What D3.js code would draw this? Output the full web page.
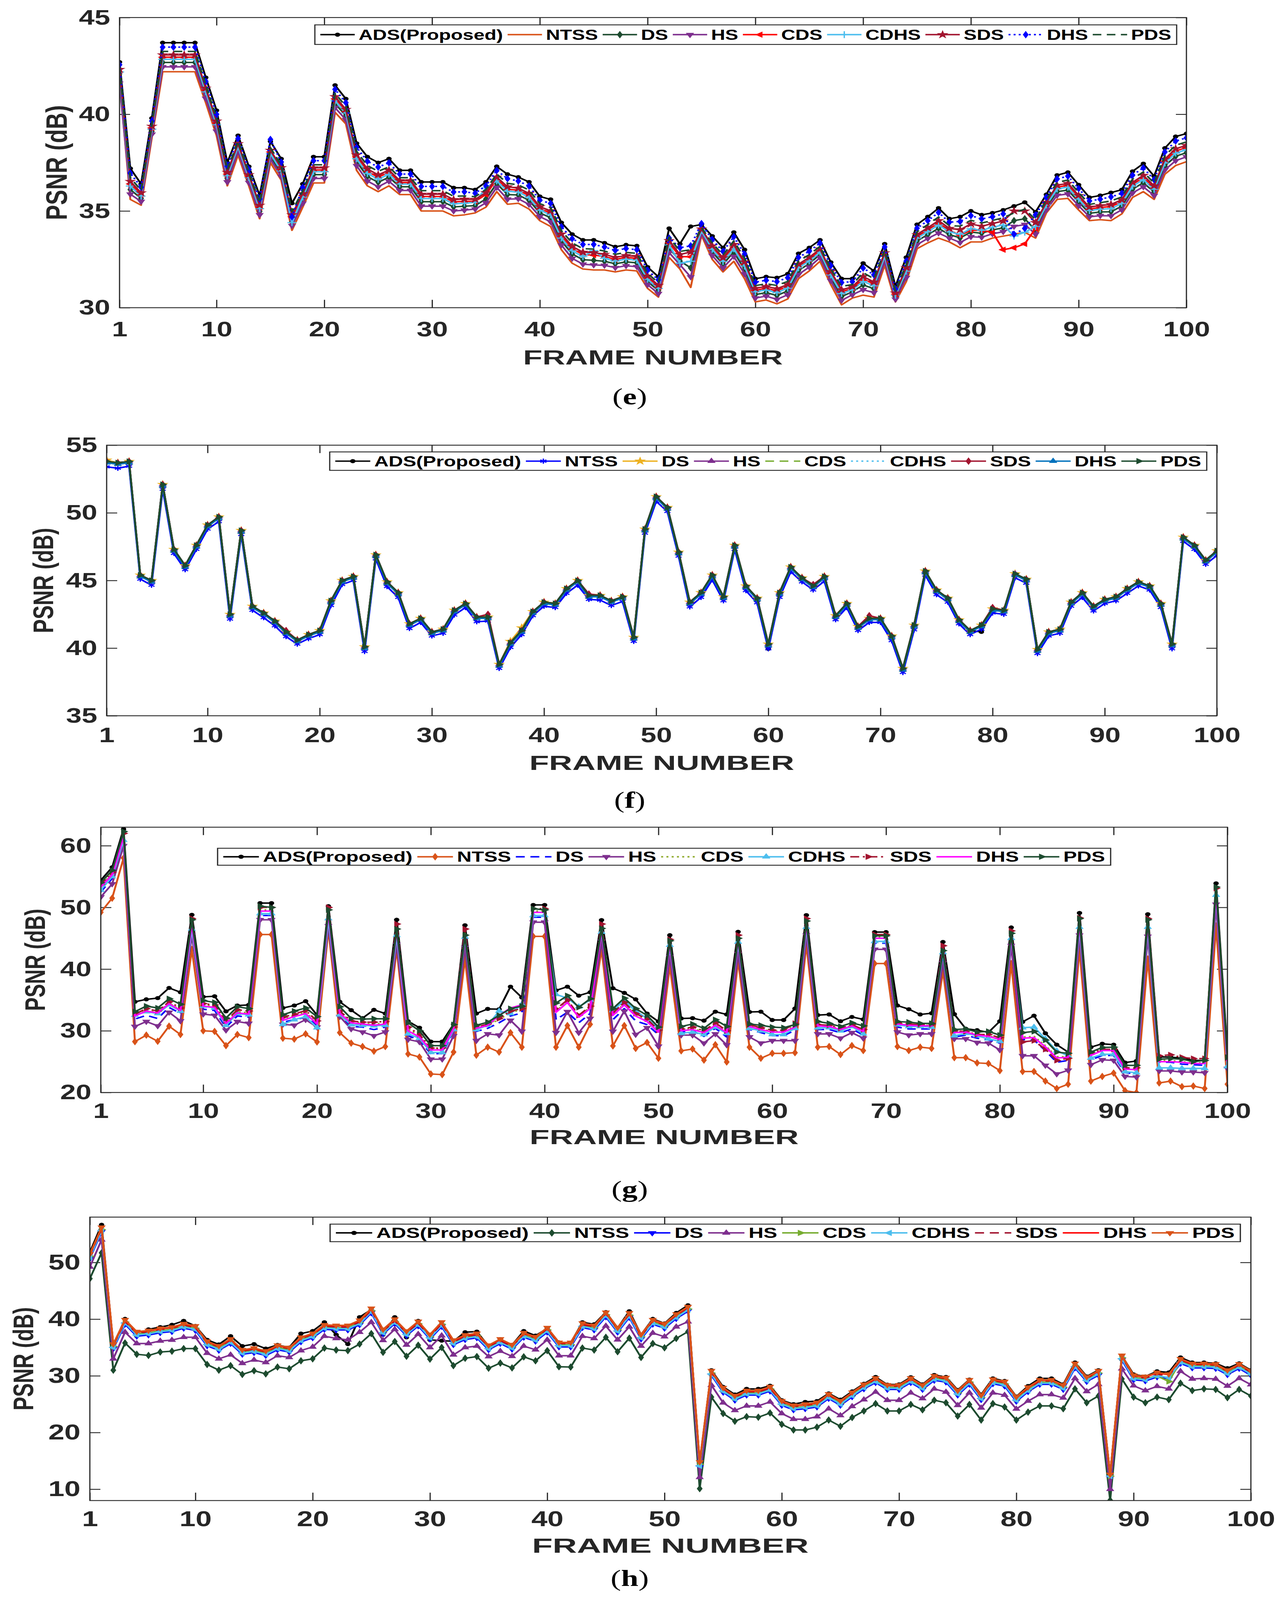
<!DOCTYPE html>
<html>
<head>
<meta charset="utf-8">
<script src="https://cdn.jsdelivr.net/npm/d3@7"></script>
<style>html,body{margin:0;padding:0;background:#fff;overflow:hidden}svg{display:block}</style>
</head>
<body>
<script>
// frame numbers and shared tick labels
const frames = d3.range(1, 101);
const xTicks = [1, 10, 20, 30, 40, 50, 60, 70, 80, 90, 100];
const names = ["ADS(Proposed)", "NTSS", "DS", "HS", "CDS", "CDHS", "SDS", "DHS", "PDS"];
const eTicks = [30, 35, 40, 45];
const fTicks = [35, 40, 45, 50, 55];
const gTicks = [20, 30, 40, 50, 60];
const hTicks = [10, 20, 30, 40, 50];

// ---- panel (e)
const eADS = [42.7,37.2,36.4,39.8,43.7,43.7,43.7,43.7,41.9,40.2, 37.5,38.9,37.3,35.8,38.6,37.7,35.4,36.4,37.8,37.8, 41.5,40.8,38.5,37.8,37.5,37.7,37.1,37.1,36.5,36.5, 36.5,36.2,36.2,36.1,36.5,37.3,36.9,36.75,36.5,35.75, 35.6,34.4,33.8,33.5,33.5,33.35,33.15,33.25,33.2,32.1, 31.6,34.1,33.3,34.2,34.3,33.7,33.1,33.9,33.0,31.5, 31.6,31.55,31.75,32.8,33.1,33.5,32.35,31.5,31.5,32.3, 31.9,33.3,31.1,32.6,34.3,34.7,35.15,34.6,34.7,35.0, 34.8,34.9,35.05,35.25,35.45,34.95,35.85,36.85,37.0,36.35, 35.7,35.8,35.95,36.1,37.05,37.45,36.8,38.25,38.85,39.0];
const eNTSS = [41.8,35.6,35.3,38.8,42.2,42.2,42.2,42.2,40.6,38.9, 36.3,37.9,36.3,34.6,37.5,36.6,34.0,35.2,36.45,36.45, 40.1,39.5,37.1,36.3,36.0,36.3,35.85,35.85,35.0,35.0, 35.0,34.75,34.8,34.9,35.2,36.0,35.35,35.4,35.1,34.5, 34.2,33.0,32.3,32.0,31.95,31.95,31.85,31.95,31.9,31.0, 30.55,32.6,32.0,31.05,33.75,32.5,31.85,32.4,31.5,30.3, 30.4,30.2,30.45,31.5,31.9,32.4,31.2,30.15,30.5,30.65, 30.55,32.2,30.3,31.35,33.05,33.35,33.6,33.4,33.1,33.4, 33.4,33.6,33.7,33.8,33.9,33.6,34.9,35.6,35.65,35.05, 34.5,34.55,34.5,34.85,35.7,36.0,35.6,36.9,37.35,37.55];
const eDS = [42.09,36.11,35.65,39.12,42.68,42.68,42.68,42.68,41.02,39.32, 36.68,38.22,36.62,34.98,37.85,36.95,34.45,35.58,36.88,36.88, 40.55,39.92,37.55,36.78,36.48,36.75,36.25,36.25,35.48,35.48, 35.48,35.21,35.25,35.28,35.62,36.42,35.85,35.83,35.55,34.9, 34.65,33.45,32.78,32.48,32.45,32.4,32.27,32.37,32.32,31.35, 30.89,33.08,32.42,32.06,33.93,32.88,32.25,32.88,31.98,30.68, 30.78,30.63,30.87,31.92,32.28,32.75,31.57,30.58,30.82,31.18, 30.98,32.55,30.56,31.75,33.45,33.78,34.1,33.78,33.61,33.91, 33.85,34.02,34.13,34.5,34.6,34.0,35.2,36.0,36.08,35.47, 34.88,34.95,34.96,35.25,36.13,36.46,35.98,37.33,37.83,38.01];
const eHS = [41.6,35.87,35.49,38.97,42.45,42.45,42.45,42.45,40.82,39.12, 36.5,38.07,36.47,34.8,37.69,36.79,34.24,35.4,36.68,36.68, 40.34,39.72,37.34,36.55,36.25,36.54,36.06,36.06,35.25,35.25, 35.25,35.0,35.04,35.1,35.42,36.22,35.61,35.63,35.34,34.71, 34.44,33.24,32.55,32.25,32.21,32.19,32.07,32.17,32.12,31.19, 30.73,32.85,32.22,31.59,33.84,32.7,32.06,32.65,31.75,30.5, 30.6,30.43,30.67,31.72,32.1,32.59,31.4,30.38,30.67,30.93, 30.78,32.39,30.44,31.56,33.26,33.58,33.86,33.6,33.37,33.67, 33.64,33.82,33.93,34.2,34.3,33.8,35.06,35.81,35.88,35.27, 34.7,34.76,34.75,35.06,35.93,36.25,35.8,37.13,37.6,37.8];
const eCDS = [42.25,36.4,35.85,39.3,42.95,42.95,42.95,42.95,41.25,39.55, 36.9,38.4,36.8,35.2,38.05,37.15,34.7,35.8,37.12,37.12, 40.8,40.15,37.8,37.05,36.75,37.0,36.47,36.47,35.75,35.75, 35.75,35.47,35.5,35.5,35.85,36.65,36.12,36.08,35.8,35.12, 34.9,33.7,33.05,32.75,32.72,32.65,32.5,32.6,32.55,31.55, 31.08,33.35,32.65,32.63,34.03,33.1,32.48,33.15,32.25,30.9, 31.0,30.88,31.1,32.15,32.5,32.95,31.78,30.83,31.0,31.48, 31.23,32.75,30.7,31.98,33.68,34.03,34.38,34.0,33.75,34.0, 34.0,33.9,33.0,33.1,33.3,34.1,35.38,36.23,36.33,35.7, 35.1,35.18,35.23,35.48,36.38,36.73,36.2,37.58,38.1,38.28];
const eCDHS = [42.19,36.29,35.77,39.23,42.84,42.84,42.84,42.84,41.16,39.46, 36.82,38.33,36.73,35.12,37.97,37.07,34.4,35.72,37.03,37.03, 40.7,40.06,37.7,36.94,36.64,36.9,36.39,36.39,35.64,35.64, 35.64,35.37,35.4,35.45,36.2,36.56,36.02,35.98,35.7,35.04, 34.8,33.6,32.94,32.64,32.95,32.55,32.41,32.51,32.46,31.47, 31.0,33.24,32.3,32.4,33.99,33.02,32.39,33.05,32.15,30.82, 30.92,30.78,31.01,32.06,32.42,32.87,31.69,30.73,30.93,31.36, 31.13,32.67,30.64,31.89,33.59,33.93,34.27,33.92,33.79,34.09, 34.0,34.16,34.28,33.7,33.9,34.2,35.31,36.14,36.23,35.61, 35.02,35.09,35.12,35.39,36.28,36.62,36.12,37.48,37.99,38.17];
const eSDS = [42.32,36.53,35.94,39.38,43.07,43.07,43.07,43.07,41.35,39.65, 37.0,38.48,36.88,35.3,38.14,37.24,34.81,35.9,37.23,37.23, 40.91,40.25,37.91,37.17,36.87,37.11,36.57,36.57,35.87,35.87, 35.87,35.59,35.61,35.6,35.95,36.75,36.25,36.18,35.91,35.22, 35.01,33.81,33.17,32.87,32.85,32.76,32.6,32.7,32.65,31.64, 31.16,33.47,32.75,32.88,34.07,33.2,32.58,33.27,32.37,31.0, 31.1,30.98,31.2,32.25,32.6,33.04,31.87,30.93,31.08,31.61, 31.33,32.84,30.76,32.08,33.78,34.13,34.5,34.1,34.03,34.33, 34.21,34.35,34.48,35.0,35.0,34.4,35.45,36.33,36.43,35.8, 35.2,35.28,35.34,35.58,36.48,36.84,36.3,37.68,38.22,38.39];
const eDHS = [42.56,36.96,36.23,39.65,43.47,43.47,43.47,43.47,41.7,40.0, 37.32,38.75,37.15,35.62,38.7,37.53,34.7,36.22,37.6,37.6, 41.29,40.6,38.29,37.57,37.27,37.49,36.91,36.91,36.27,36.27, 36.27,35.98,35.99,35.92,36.3,37.1,36.67,36.55,36.29,35.56, 35.39,34.19,33.57,33.27,33.27,33.14,32.96,33.06,33.0,31.94, 31.44,33.6,33.1,33.2,34.35,33.52,32.91,33.67,32.77,31.32, 31.42,31.35,31.55,32.6,32.92,33.34,32.18,31.3,31.35,32.05, 31.7,33.14,30.98,32.41,34.11,34.5,34.92,34.42,34.46,34.76, 34.59,34.7,34.85,33.8,34.1,34.8,35.71,36.66,36.8,36.16, 35.52,35.61,35.73,35.91,36.85,37.23,36.62,38.05,38.62,38.78];
const ePDS = [42.43,36.72,36.07,39.5,43.25,43.25,43.25,43.25,41.51,39.81, 37.14,38.6,37.0,35.44,38.27,37.37,34.98,36.04,37.39,37.39, 41.08,40.41,38.08,37.35,37.05,37.28,36.72,36.72,36.05,36.05, 36.05,35.76,35.78,35.74,36.11,36.91,36.43,36.35,36.08,35.38, 35.18,33.98,33.35,33.05,33.03,32.93,32.76,32.86,32.81,31.77, 31.29,33.65,32.91,33.0,34.14,33.34,32.72,33.45,32.55,31.14, 31.24,31.15,31.36,32.41,32.74,33.17,32.01,31.1,31.2,31.81, 31.5,32.97,30.86,32.22,33.92,34.3,34.69,34.24,34.22,34.52, 34.38,34.51,34.65,34.9,35.1,34.55,35.57,36.48,36.6,35.96, 35.34,35.43,35.52,35.73,36.65,37.02,36.44,37.85,38.4,38.57];

// ---- panel (f)
const fADS = [53.8,53.65,53.75,45.4,44.95,52.05,47.3,46.1,47.6,49.1, 49.65,42.45,48.7,43.1,42.55,41.95,41.15,40.6,41.0,41.3, 43.45,45.0,45.3,40.05,46.9,44.85,44.05,41.75,42.2,41.2, 41.4,42.75,43.3,42.25,42.3,38.8,40.35,41.3,42.7,43.4, 43.3,44.35,44.95,43.9,43.85,43.45,43.75,40.8,48.8,51.15, 50.4,47.1,43.35,44.05,45.35,43.8,47.6,44.55,43.65,39.95, 44.05,45.95,45.2,44.6,45.25,42.4,43.3,41.6,42.2,42.2, 40.85,38.5,41.65,45.7,44.25,43.7,42.1,41.3,41.2,42.9, 42.8,45.5,45.1,39.9,41.2,41.4,43.4,44.05,43.05,43.6, 43.8,44.35,44.9,44.6,43.3,40.25,48.2,47.6,46.5,47.15];
const fNTSS = [53.4,53.3,53.45,45.1,44.65,51.75,47.0,45.8,47.3,48.8, 49.35,42.15,48.4,42.8,42.25,41.65,40.85,40.3,40.7,41.0, 43.15,44.7,45.0,39.75,46.6,44.55,43.75,41.45,41.9,40.9, 41.1,42.45,43.0,41.95,42.0,38.5,40.05,41.0,42.4,43.1, 43.0,44.05,44.65,43.6,43.55,43.15,43.45,40.5,48.5,50.85, 50.1,46.8,43.05,43.75,45.05,43.5,47.3,44.25,43.35,39.95, 43.75,45.65,44.9,44.3,44.95,42.1,43.0,41.3,41.9,41.9, 40.55,38.2,41.35,45.4,43.95,43.4,41.8,41.0,41.4,42.6, 42.5,45.2,44.8,39.6,40.9,41.1,43.1,43.75,42.75,43.3, 43.5,44.05,44.6,44.3,43.0,39.95,47.9,47.3,46.2,46.85];
const fDS = [53.9,53.7,53.8,45.4,45.0,52.1,47.3,46.1,47.6,49.1, 49.7,42.5,48.7,43.1,42.6,42.0,41.2,40.6,41.0,41.3, 43.5,45.0,45.3,40.1,46.9,44.9,44.1,41.8,42.2,41.2, 41.4,42.8,43.3,42.3,42.3,38.8,40.5,41.5,42.7,43.4, 43.3,44.4,45.0,43.9,43.9,43.5,43.8,40.8,48.8,51.2, 50.4,47.1,43.4,44.1,45.4,43.8,47.6,44.6,43.7,40.3, 44.1,46.0,45.2,44.6,45.3,42.4,43.3,41.6,42.2,42.2, 40.9,38.5,41.7,45.7,44.3,43.7,42.1,41.3,41.7,42.9, 42.8,45.5,45.1,39.9,41.2,41.4,43.4,44.1,43.1,43.6, 43.8,44.4,44.9,44.6,43.3,40.3,48.2,47.6,46.5,47.2];
const fHS = [53.8,53.7,53.8,45.4,45.0,52.1,47.3,46.1,47.6,49.1, 49.7,42.5,48.7,43.1,42.6,42.0,41.2,40.6,41.0,41.3, 43.5,45.0,45.3,40.1,46.9,44.9,44.1,41.8,42.2,41.2, 41.4,42.8,43.3,42.3,42.3,38.8,40.4,41.3,42.7,43.4, 43.3,44.4,45.0,43.9,43.9,43.5,43.8,40.8,48.8,51.2, 50.4,47.1,43.4,44.1,45.4,43.8,47.6,44.6,43.7,40.3, 44.1,46.0,45.2,44.6,45.3,42.4,43.3,41.6,42.2,42.2, 40.9,38.5,41.7,45.7,44.3,43.7,42.1,41.3,41.7,42.9, 42.8,45.5,45.1,39.9,41.2,41.4,43.4,44.1,43.1,43.6, 43.8,44.4,44.9,44.6,43.3,40.3,48.2,47.6,46.5,47.2];
const fCDS = [53.7,53.6,53.7,45.3,44.9,52.0,47.2,46.0,47.5,49.0, 49.6,42.4,48.6,43.0,42.5,41.9,41.1,40.5,40.9,41.2, 43.4,44.9,45.2,40.0,46.8,44.8,44.0,41.7,42.1,41.1, 41.3,42.7,43.2,42.2,42.2,38.7,40.3,41.2,42.6,43.3, 43.2,44.3,44.9,43.8,43.8,43.4,43.7,40.7,48.7,51.1, 50.3,47.0,43.3,44.0,45.3,43.7,47.5,44.5,43.6,40.2, 44.0,45.9,45.1,44.5,45.2,42.3,43.2,41.5,42.1,42.1, 40.8,38.4,41.6,45.6,44.2,43.6,42.0,41.2,41.6,42.8, 42.7,45.4,45.0,39.8,41.1,41.3,43.3,44.0,43.0,43.5, 43.7,44.3,44.8,44.5,43.2,40.2,48.1,47.5,46.4,47.1];
const fCDHS = [53.7,53.6,53.7,45.3,44.9,52.0,47.2,46.0,47.5,49.0, 49.6,42.4,48.6,43.0,42.5,41.9,41.1,40.5,40.9,41.2, 43.4,44.9,45.2,40.0,46.8,44.8,44.0,41.7,42.1,41.1, 41.3,42.7,43.2,42.2,42.2,38.7,40.3,41.2,42.6,43.3, 43.2,44.3,44.9,43.8,43.8,43.4,43.7,40.7,48.7,51.1, 50.3,47.0,43.3,44.0,45.3,43.7,47.5,44.5,43.6,40.2, 44.0,45.9,45.1,44.5,45.2,42.3,43.2,41.5,42.1,42.1, 40.8,38.4,41.6,45.6,44.2,43.6,42.0,41.2,41.6,42.8, 42.7,45.4,45.0,39.8,41.1,41.3,43.3,44.0,43.0,43.5, 43.7,44.3,44.8,44.5,43.2,40.2,48.1,47.5,46.4,47.1];
const fSDS = [53.8,53.7,53.8,45.4,45.0,52.1,47.3,46.1,47.6,49.1, 49.7,42.5,48.7,43.1,42.6,42.0,41.3,40.6,41.0,41.3, 43.5,45.0,45.3,40.1,46.9,44.9,44.1,41.8,42.2,41.2, 41.4,42.8,43.3,42.3,42.5,38.8,40.4,41.3,42.7,43.4, 43.3,44.4,45.0,44.0,43.9,43.5,43.8,40.8,48.8,51.2, 50.4,47.1,43.4,44.1,45.4,43.8,47.6,44.6,43.7,40.3, 44.1,46.0,45.2,44.7,45.3,42.4,43.3,41.6,42.4,42.2, 40.9,38.5,41.7,45.7,44.3,43.7,42.1,41.3,41.7,43.0, 42.8,45.4,45.1,39.9,41.2,41.4,43.4,44.1,43.1,43.6, 43.8,44.4,44.9,44.6,43.3,40.3,48.2,47.6,46.5,47.2];
const fDHS = [53.7,53.6,53.7,45.3,44.9,52.0,47.2,46.0,47.5,49.0, 49.6,42.4,48.6,43.0,42.5,41.9,41.1,40.5,40.9,41.2, 43.4,44.9,45.2,40.0,46.8,44.8,44.0,41.7,42.1,41.1, 41.3,42.7,43.2,42.2,42.2,38.7,40.3,41.2,42.6,43.3, 43.2,44.3,44.9,43.8,43.8,43.4,43.7,40.7,48.7,51.1, 50.3,47.0,43.3,44.0,45.3,43.7,47.5,44.5,43.6,40.2, 44.0,45.9,45.1,44.5,45.2,42.3,43.2,41.5,42.1,42.1, 40.8,38.4,41.6,45.6,44.2,43.6,42.0,41.2,41.6,42.8, 42.7,45.4,45.0,39.8,41.1,41.3,43.3,44.0,43.0,43.5, 43.7,44.3,44.8,44.5,43.2,40.2,48.1,47.5,46.4,47.1];
const fPDS = [53.8,53.7,53.8,45.4,45.0,52.1,47.3,46.1,47.6,49.1, 49.7,42.5,48.7,43.1,42.6,42.0,41.2,40.6,41.0,41.3, 43.5,45.0,45.3,40.1,46.9,44.9,44.1,41.8,42.2,41.2, 41.4,42.8,43.3,42.3,42.3,38.8,40.4,41.3,42.7,43.4, 43.3,44.4,45.0,43.9,43.9,43.5,43.8,40.8,48.8,51.2, 50.4,47.1,43.4,44.1,45.4,43.8,47.6,44.6,43.7,40.3, 44.1,46.0,45.2,44.6,45.3,42.4,43.3,41.6,42.2,42.2, 40.9,38.5,41.7,45.7,44.3,43.7,42.1,41.3,41.7,42.9, 42.8,45.5,45.1,39.9,41.2,41.4,43.4,44.1,43.1,43.6, 43.8,44.4,44.9,44.6,43.3,40.3,48.2,47.6,46.5,47.2];

// ---- panel (g)
const gADS = [54.4,56.5,62.7,34.7,35.1,35.3,36.95,36.25,48.8,35.5, 35.6,33.15,34.1,34.2,50.7,50.7,33.7,34.1,34.8,32.55, 50.2,34.7,33.35,32.05,33.4,32.8,48.0,31.55,30.5,28.25, 28.25,31.05,47.1,32.8,33.55,33.5,37.15,35.4,50.4,50.4, 36.55,37.15,35.7,36.25,47.95,36.9,36.15,35.1,32.8,31.5, 45.5,32.0,32.05,31.65,33.1,32.65,46.05,33.05,33.1,31.75, 31.75,33.6,48.75,32.55,32.65,31.55,32.25,31.85,46.0,46.0, 34.1,33.5,32.65,32.85,44.4,32.7,30.35,30.1,29.75,31.55, 46.75,31.45,32.45,29.6,27.75,26.55,49.1,27.35,27.9,27.75, 24.85,25.1,48.9,25.75,25.75,25.55,25.2,25.2,53.9,26.35];
const gNTSS = [49.2,51.5,58.0,28.25,29.3,28.3,30.75,29.4,43.2,30.0, 29.9,27.6,29.4,28.9,45.6,45.6,28.8,28.65,29.5,28.2, 46.4,29.7,28.0,27.45,26.7,27.45,43.2,26.25,25.75,23.0, 22.9,26.55,41.65,26.05,27.35,26.55,29.7,27.35,45.3,45.3, 27.35,30.85,27.35,31.05,43.2,27.55,30.85,27.15,28.1,25.55, 40.5,26.75,27.05,25.25,27.75,24.95,41.3,27.35,25.55,26.35, 26.35,26.45,44.0,27.35,27.45,26.15,27.6,26.8,40.9,40.9, 27.45,26.8,27.35,27.15,39.7,25.65,25.65,24.8,24.7,23.55, 40.9,23.4,23.4,21.85,20.65,21.35,43.2,21.85,22.6,23.15, 20.3,20.0,41.65,21.55,21.85,20.95,21.05,20.65,47.0,21.35];
const gDS = [52.5,54.7,60.6,31.9,32.5,32.0,33.8,32.8,46.2,33.5, 33.3,30.6,32.4,32.2,48.7,48.7,31.4,31.8,32.2,30.9, 48.5,32.3,30.7,30.6,30.2,30.6,45.2,29.2,28.5,26.3, 26.3,30.0,44.8,29.9,30.4,31.3,32.4,32.9,48.4,48.4, 31.8,33.0,31.3,32.8,45.7,31.8,33.6,31.6,31.0,29.4, 43.6,29.8,30.0,29.1,30.4,29.0,44.1,30.2,29.7,29.2, 29.2,30.1,46.5,30.2,30.2,29.7,30.3,29.3,44.2,44.2, 30.6,30.3,30.3,30.3,42.4,29.0,29.3,28.8,28.5,28.0, 44.7,28.6,28.5,26.8,24.9,25.2,46.5,25.3,26.0,26.0, 23.2,23.0,46.5,24.9,24.9,24.6,24.5,24.4,51.7,24.6];
const gHS = [51.7,53.8,60.0,30.7,31.5,30.8,33.0,31.6,45.5,32.7, 32.5,30.1,31.5,31.2,48.0,48.0,31.05,30.9,31.8,30.6, 47.0,32.3,30.3,29.8,29.2,29.8,44.0,28.6,28.2,25.4, 25.4,29.2,43.5,28.4,29.5,29.3,31.7,29.9,47.6,47.6, 29.7,33.1,29.7,32.0,44.5,29.9,33.2,29.4,30.5,27.5, 42.0,29.3,29.3,28.0,29.5,27.7,42.5,29.0,28.0,28.4, 28.4,28.4,45.5,29.5,29.5,28.8,29.7,28.8,43.2,43.2, 29.8,29.3,29.5,29.5,41.0,28.7,28.7,28.1,28.0,26.9, 43.8,25.95,25.95,24.4,23.0,23.6,45.5,24.5,25.3,25.2, 22.6,22.5,45.3,23.5,23.5,23.3,23.3,23.2,50.5,23.9];
const gCDS = [53.5,55.5,61.6,32.5,33.3,33.0,34.5,33.4,47.5,34.2, 34.0,31.4,33.1,32.9,49.6,49.6,31.9,32.5,33.0,31.3, 49.3,33.0,31.5,31.2,31.1,31.2,46.5,30.3,29.2,27.0, 27.0,30.5,45.8,30.5,31.0,31.8,33.0,33.4,49.4,49.4, 33.2,34.8,32.4,33.8,46.6,32.7,34.4,32.6,31.7,30.0, 44.4,30.2,30.4,29.8,31.1,29.8,45.0,30.8,30.3,29.9, 29.9,30.8,47.6,30.9,30.8,30.3,30.9,30.0,45.2,45.2, 31.2,31.0,30.9,30.9,43.4,29.8,29.8,29.3,29.2,28.7, 45.7,29.0,29.1,27.6,25.8,25.8,47.8,26.1,26.9,26.9, 23.9,23.8,47.7,25.2,25.2,25.0,24.8,24.8,52.7,25.2];
const gCDHS = [52.8,55.0,60.9,32.55,33.1,32.8,34.2,33.2,46.5,34.0, 33.7,30.9,32.8,32.6,49.0,49.0,31.05,31.8,32.3,30.5, 48.2,32.6,31.0,30.9,30.8,30.9,45.5,29.5,28.8,26.5, 26.5,30.2,45.2,30.2,30.9,33.2,32.8,34.3,48.7,48.7, 35.9,35.3,33.9,35.0,46.0,33.3,34.9,33.2,32.0,30.3, 43.9,29.6,29.8,29.4,30.6,29.6,44.4,30.4,30.0,29.4, 29.4,30.4,46.8,30.5,30.5,30.0,30.7,29.5,44.5,44.5, 31.0,30.7,30.7,30.6,42.7,29.2,29.6,29.2,28.7,28.3, 45.0,30.5,30.6,28.7,26.75,25.95,46.8,25.6,26.2,26.2, 23.4,23.2,46.8,24.0,24.0,23.9,23.9,23.9,52.0,24.2];
const gSDS = [53.7,55.7,62.0,32.7,33.6,33.2,34.7,33.7,48.2,34.4, 34.2,31.6,33.4,33.2,50.0,50.0,32.2,32.7,33.3,31.6, 50.0,33.2,31.6,31.4,31.4,31.5,47.3,30.6,29.4,27.2, 27.2,30.6,46.5,30.6,31.1,32.0,33.2,33.6,49.8,49.8, 33.5,35.0,32.5,34.0,47.3,32.9,34.6,32.8,31.9,30.1, 44.8,30.3,30.6,30.0,31.3,30.0,45.5,31.0,30.5,30.1, 30.1,31.2,48.2,31.0,30.9,30.4,31.0,30.2,45.6,45.6, 31.3,31.1,31.0,31.0,43.8,30.0,29.9,29.4,29.4,28.9, 46.2,28.2,28.4,27.0,25.2,25.55,48.3,26.3,27.0,27.0, 24.0,24.0,48.2,25.95,26.1,25.7,25.5,25.5,53.1,25.6];
const gDHS = [53.3,55.3,61.5,32.4,33.2,32.9,34.4,33.3,47.3,34.0, 33.8,31.2,32.9,32.7,49.4,49.4,31.7,32.3,32.8,31.1, 49.2,32.8,31.3,31.1,30.9,31.1,46.3,30.0,29.0,26.9, 26.9,30.4,45.6,30.4,30.9,32.5,33.7,34.2,49.2,49.2, 33.0,34.6,32.2,33.6,46.4,32.5,34.2,32.4,31.5,29.8, 44.2,30.0,30.2,29.7,30.9,29.7,44.8,30.7,30.2,29.8, 29.8,30.6,47.4,30.8,30.7,30.2,30.8,29.9,45.0,45.0, 31.1,30.9,30.8,30.8,43.2,29.7,29.8,29.3,29.1,28.6, 45.5,28.8,28.9,27.4,25.6,25.7,47.6,26.0,26.8,26.8, 23.8,23.7,47.5,25.0,25.0,24.9,24.7,24.7,52.5,25.0];
const gPDS = [54.0,56.0,62.3,33.1,34.0,33.7,35.2,34.3,48.0,34.9, 34.6,32.05,33.9,33.6,50.2,50.0,32.6,33.2,33.7,32.3, 49.6,33.9,32.0,31.9,31.95,31.95,46.5,31.3,30.0,27.6, 27.6,31.0,45.5,30.9,31.4,32.5,33.6,34.0,49.8,49.6, 34.5,35.7,33.8,35.2,46.6,33.6,35.3,33.6,32.5,30.6, 44.6,30.7,31.1,30.4,31.8,30.7,45.0,31.1,30.9,30.6, 30.5,31.0,47.8,31.5,31.2,30.7,31.3,30.8,45.4,45.4, 31.5,31.4,31.2,31.2,43.0,30.2,30.3,29.8,29.9,29.3, 45.8,29.7,29.9,28.5,26.55,26.35,48.2,26.55,27.3,27.35, 24.4,24.4,48.0,25.4,25.5,25.4,25.0,25.2,53.3,25.7];

// ---- panel (h)
const hADS = [51.8,56.65,35.3,40.05,37.0,38.2,38.6,39.0,39.7,38.8, 36.35,35.55,37.0,35.25,35.6,34.8,35.45,35.0,37.45,37.9, 39.45,37.25,35.6,40.35,41.7,37.25,40.35,36.8,39.7,36.35, 36.2,36.1,37.7,37.8,35.25,36.45,35.45,37.9,37.1,38.35, 35.9,35.8,39.45,39.1,41.25,38.45,41.4,37.25,40.05,39.25, 41.1,42.45,14.35,31.0,28.05,26.7,27.7,27.7,28.25,25.7, 25.0,25.4,25.55,26.9,25.8,27.25,28.6,29.8,28.45,28.5, 29.75,28.5,30.15,29.8,27.5,29.35,26.7,29.55,29.1,26.35, 28.2,29.55,29.55,28.5,32.35,29.9,31.0,12.5,33.55,30.25, 29.9,30.8,30.6,33.25,32.35,32.35,32.2,31.35,32.2,31.0];
const hNTSS = [47.15,51.7,31.0,35.8,33.8,33.6,34.2,34.35,34.8,34.8, 32.0,31.0,31.8,30.25,30.9,30.35,31.55,31.25,32.65,33.0, 34.9,34.55,34.45,35.6,37.45,34.15,36.05,33.45,35.4,32.95, 35.0,31.8,33.1,33.4,31.35,32.25,31.4,33.35,32.65,34.45, 31.6,31.55,34.9,34.55,36.8,34.25,36.65,33.25,35.7,34.95, 36.6,37.8,10.1,26.25,23.35,22.0,22.8,22.7,23.45,21.45, 20.45,20.45,20.95,22.2,21.1,22.65,23.8,25.1,23.8,23.8, 24.95,24.0,25.7,25.25,22.9,24.95,22.2,25.1,24.5,22.2, 23.6,24.7,24.7,24.2,27.7,25.25,26.45,8.05,29.45,26.25, 25.25,26.25,25.8,28.7,27.4,27.7,27.6,26.15,27.6,26.45];
const hDS = [50.7,55.4,34.8,39.1,37.0,37.2,37.6,37.8,38.4,38.0, 35.3,34.5,35.7,33.8,34.1,33.6,34.6,34.2,36.0,36.7, 38.2,38.1,38.1,39.0,41.1,37.4,39.2,37.1,38.8,36.5, 38.7,35.5,36.4,36.7,34.6,35.7,34.7,36.8,36.1,37.7, 35.1,35.1,38.5,38.1,40.4,37.7,40.3,36.5,39.1,38.4, 40.1,41.4,13.9,30.1,27.1,25.7,26.6,26.6,27.3,24.8, 24.0,24.2,24.5,26.0,24.8,26.3,27.7,28.8,27.6,27.6, 28.8,27.6,29.2,28.9,26.6,28.5,25.8,28.6,28.2,25.5, 27.2,28.5,28.5,27.6,31.4,29.0,30.1,12.0,32.8,29.3, 29.1,29.8,29.5,32.2,31.4,31.4,31.3,30.2,31.3,30.1];
const hHS = [49.2,54.0,33.0,37.7,35.7,35.7,36.15,36.3,36.8,36.8, 34.0,33.0,33.7,32.2,32.8,32.35,33.55,33.25,34.45,35.1, 37.0,36.6,36.35,37.7,39.45,36.25,38.2,35.45,37.35,35.0, 37.1,33.7,35.0,35.25,33.4,34.35,33.45,35.25,34.6,36.35, 33.55,33.55,37.0,36.6,38.8,36.35,38.65,35.25,37.55,36.9, 38.65,39.55,12.1,28.35,25.25,23.9,24.7,24.7,25.4,23.35, 22.35,22.35,22.8,24.2,23.0,24.6,25.8,27.15,25.7,25.7, 27.0,26.0,27.7,27.15,24.8,27.0,24.35,27.0,26.6,24.15, 25.55,26.7,26.7,26.1,29.55,27.25,28.5,10.0,31.25,28.25, 27.4,28.15,27.7,30.8,29.45,29.55,29.45,28.2,29.55,28.45];
const hCDS = [51.1,55.8,35.2,39.5,37.4,37.6,38.0,38.2,38.8,38.4, 35.7,34.9,36.1,34.3,34.5,34.1,35.0,34.6,36.4,37.1, 38.6,38.5,38.5,39.4,41.5,37.8,39.6,37.5,39.2,36.9, 39.1,35.9,36.8,37.1,35.0,36.1,35.1,37.2,36.5,38.1, 35.5,35.5,38.9,38.5,40.8,38.1,40.7,36.9,39.5,38.8, 40.5,41.8,14.4,30.5,27.5,26.1,27.0,27.0,27.7,25.2, 24.4,24.6,24.9,26.4,25.2,26.7,28.1,29.2,28.0,28.0, 29.2,28.0,29.6,29.3,27.0,28.9,26.2,29.0,28.6,25.9, 27.6,28.9,28.9,28.0,31.8,29.4,30.5,12.3,33.2,29.7, 29.5,30.0,29.0,32.6,31.8,31.8,31.7,30.6,31.7,30.5];
const hCDHS = [50.9,55.6,35.0,39.3,37.2,37.4,37.8,38.0,38.6,38.2, 35.5,34.7,35.9,34.0,34.3,33.8,34.8,34.4,36.2,36.9, 38.4,38.3,38.3,39.2,41.3,37.6,39.4,37.3,39.0,36.7, 38.9,35.7,36.6,36.9,34.8,35.9,34.9,37.0,36.3,37.9, 35.3,35.3,38.7,38.3,40.6,37.9,40.5,36.7,39.3,38.6, 40.3,41.6,14.1,30.3,27.3,25.9,26.8,26.8,27.5,25.0, 24.2,24.4,24.7,26.2,25.0,26.5,27.9,29.0,27.8,27.8, 29.0,27.8,29.4,29.1,26.8,28.7,26.0,28.8,28.4,25.7, 27.4,28.7,28.7,27.8,31.6,29.2,30.3,12.3,33.0,29.5, 29.3,30.0,29.7,32.4,31.6,31.6,31.5,30.4,31.5,30.3];
const hSDS = [51.3,56.0,35.4,39.6,37.5,37.8,38.2,38.4,39.0,38.5, 35.9,35.1,36.3,34.4,34.7,34.2,35.2,34.8,36.6,37.3, 38.8,38.6,38.6,39.5,41.6,37.9,39.7,37.6,39.3,37.0, 39.2,36.0,37.0,37.2,35.2,36.2,35.2,37.4,36.7,38.3, 35.7,35.7,39.0,38.7,41.0,38.3,40.9,37.0,39.7,39.0, 40.7,42.0,14.6,30.6,27.7,26.3,27.2,27.2,27.8,25.4, 24.6,24.8,25.1,26.6,25.4,26.9,28.3,29.4,28.2,28.2, 29.4,28.2,29.8,29.5,27.2,29.1,26.4,29.2,28.8,26.1, 27.8,29.1,29.1,28.2,32.0,29.6,30.7,12.4,33.4,29.9, 29.6,30.3,30.0,32.8,32.0,32.0,31.9,30.8,31.9,30.6];
const hDHS = [51.4,56.1,35.5,39.8,37.7,37.9,38.3,38.5,39.1,38.7, 36.0,35.2,36.4,34.5,34.8,34.3,35.3,34.9,36.7,37.4, 38.9,38.8,38.8,39.7,41.8,38.1,39.9,37.8,39.5,37.2, 39.4,36.2,37.1,37.4,35.3,36.4,35.4,37.5,36.8,38.4, 35.8,35.8,39.2,38.8,41.1,38.4,41.0,37.2,39.8,39.1, 40.8,42.1,14.7,30.8,27.8,26.4,27.3,27.3,28.0,25.5, 24.7,24.9,25.2,26.7,25.5,27.0,28.4,29.5,28.3,28.3, 29.5,28.3,29.9,29.6,27.3,29.2,26.5,29.3,28.9,26.2, 27.9,29.2,29.2,28.3,32.1,29.7,30.8,12.5,33.5,30.0, 29.8,30.5,30.2,32.9,32.1,32.1,32.0,30.9,32.0,30.8];
const hPDS = [51.5,56.2,35.6,39.9,37.8,38.0,38.4,38.6,39.2,38.8, 36.1,35.3,36.5,34.6,34.9,34.4,35.4,35.0,36.8,37.5, 39.0,38.9,38.9,39.8,41.9,38.2,40.0,37.9,39.6,37.3, 39.5,36.3,37.2,37.5,35.4,36.5,35.5,37.6,36.9,38.5, 35.9,35.9,39.3,38.9,41.2,38.5,41.1,37.3,39.9,39.2, 40.9,42.2,14.8,30.9,27.9,26.5,27.4,27.4,28.1,25.6, 24.8,25.0,25.3,26.8,25.6,27.1,28.5,29.6,28.4,28.4, 29.6,28.4,30.0,29.7,27.4,29.3,26.6,29.4,29.0,26.3, 28.0,29.3,29.3,28.4,32.2,29.8,30.9,12.6,33.6,30.1, 29.9,30.6,30.3,33.0,32.2,32.2,32.1,31.0,32.1,30.9];

const W = 3297, H = 5470;
const INK = "#262626";
const DKG = "#1D4B2F";
const SANS = "'Liberation Sans', Arial, Helvetica, sans-serif";
const SERIF = "'Liberation Serif', 'Times New Roman', serif";
const TICK = 27;

const panels = [
  {tag: "e", box: [306, 60, 3037, 1052], y: [30, 45], yTicks: eTicks, tf: 72,
   tickBase: 1150, xLab: 1246, xLen: 665, yLabX: 144, yLen: 393, tagBase: 1382,
   legend: [806, 85, 3012, 152],
   data: [eADS, eNTSS, eDS, eHS, eCDS, eCDHS, eSDS, eDHS, ePDS],
   style: [{c: "#000", m: "dot"}, {c: "#D95319"}, {c: DKG, m: "diamond"},
           {c: "#7E2F8E", m: "tri", r: 180}, {c: "#FF0000", m: "tri", r: -90},
           {c: "#4DBEEE", m: "plus"}, {c: "#A2142F", m: "star"},
           {c: "#0000FF", m: "diamond", d: "dot"}, {c: DKG, d: "dash"}]},
  {tag: "f", box: [273, 1522, 3115, 2447], y: [35, 55], yTicks: fTicks, tf: 72,
   tickBase: 2537, xLab: 2632, xLen: 678, yLabX: 111, yLen: 360, tagBase: 2762,
   legend: [844, 1545, 3089, 1608],
   data: [fADS, fNTSS, fDS, fHS, fCDS, fCDHS, fSDS, fDHS, fPDS],
   style: [{c: "#000", m: "dot"}, {c: "#0000FF", m: "ast"}, {c: "#EDB120", m: "star"},
           {c: "#7E2F8E", m: "tri"}, {c: "#77AC30", d: "dash"}, {c: "#4DBEEE", d: "dot"},
           {c: "#A2142F", m: "diamond"}, {c: "#0072BD", m: "tri"}, {c: DKG, m: "tri", r: 90}]},
  {tag: "g", box: [258, 2828, 3142, 3735], y: [20, 63], yTicks: gTicks, tf: 72,
   tickBase: 3822, xLab: 3912, xLen: 689, yLabX: 90, yLen: 349, tagBase: 4092,
   legend: [557, 2900, 2843, 2958],
   data: [gADS, gNTSS, gDS, gHS, gCDS, gCDHS, gSDS, gDHS, gPDS],
   style: [{c: "#000", m: "dot"}, {c: "#D95319", m: "diamond"}, {c: "#0000FF", d: "dash"},
           {c: "#7E2F8E", m: "tri", r: 180}, {c: "#8FAA2C", d: "dot"}, {c: "#4DBEEE", m: "tri"},
           {c: "#A2142F", m: "tri", r: 90, d: "dashdot"}, {c: "#FF00FF"}, {c: DKG, m: "tri", r: 90}]},
  {tag: "h", box: [230, 4161, 3202, 5130], y: [8, 58], yTicks: hTicks, tf: 74,
   tickBase: 5218, xLab: 5309, xLen: 708, yLabX: 60, yLen: 353, tagBase: 5422,
   legend: [845, 4185, 3175, 4245],
   data: [hADS, hNTSS, hDS, hHS, hCDS, hCDHS, hSDS, hDHS, hPDS],
   style: [{c: "#000", m: "dot"}, {c: DKG, m: "diamond"}, {c: "#0000FF", m: "tri", r: 180},
           {c: "#7E2F8E", m: "tri"}, {c: "#77AC30", m: "tri", r: 90}, {c: "#4DBEEE", m: "tri", r: -90},
           {c: "#A2142F", d: "dash"}, {c: "#FF0000"}, {c: "#D95319", m: "tri", r: 180}]}
];

const SYM = {dot: d3.symbolCircle, diamond: d3.symbolDiamond, tri: d3.symbolTriangle,
             star: d3.symbolStar, plus: d3.symbolPlus || d3.symbolCross, ast: d3.symbolAsterisk || d3.symbolCross};
const SIZE = {dot: 120, diamond: 150, tri: 150, star: 200, plus: 180, ast: 220};
const STROKE_SYM = {plus: true, ast: true};
const DASH = {dash: "22,14", dot: "5,8", dashdot: "22,9,5,9"};

// laid out on a 3297x5470 canvas; the svg fills the window it is given,
// so a window shorter than that still shows all four panels
const vw = Math.min(window.innerWidth || W, W);
const vh = Math.min(window.innerHeight || H, H);

const svg = d3.select("body").append("svg")
  .attr("width", vw).attr("height", vh)
  .attr("viewBox", `0 0 ${W} ${H}`)
  .attr("preserveAspectRatio", "none")
  .style("background", "#fff");

function marker(sel, s, x, y) {
  if (!s.m) return;
  sel.append("path")
    .attr("d", d3.symbol(SYM[s.m], SIZE[s.m])())
    .attr("transform", `translate(${x},${y}) rotate(${s.r || 0})`)
    .attr("fill", STROKE_SYM[s.m] ? "none" : s.c)
    .attr("stroke", s.c)
    .attr("stroke-width", STROKE_SYM[s.m] ? 3.5 : 1.5);
}

panels.forEach((p, k) => {
  const [x0, y0, x1, y1] = p.box;
  const x = d3.scaleLinear().domain([1, 100]).range([x0, x1]);
  const y = d3.scaleLinear().domain(p.y).range([y1, y0]);
  const g = svg.append("g");

  svg.append("clipPath").attr("id", "clip" + k)
    .append("rect").attr("x", x0).attr("y", y0).attr("width", x1 - x0).attr("height", y1 - y0);

  const styleAxis = a => {
    a.select(".domain").remove();
    a.attr("font-size", p.tf).attr("font-family", SANS).attr("font-weight", "bold")
      .style("color", INK);
    a.selectAll("line").attr("stroke-width", 3);
  };

  g.append("g").attr("transform", `translate(0,${y1})`)
    .call(d3.axisBottom(x).tickValues(xTicks).tickSizeInner(-TICK).tickSizeOuter(0)
      .tickPadding(p.tickBase - y1 - 0.71 * p.tf))
    .call(styleAxis);
  g.append("g").attr("transform", `translate(0,${y0})`)
    .call(d3.axisTop(x).tickValues(xTicks).tickSizeInner(-TICK).tickSizeOuter(0).tickFormat(() => ""))
    .call(styleAxis);
  g.append("g").attr("transform", `translate(${x0},0)`)
    .call(d3.axisLeft(y).tickValues(p.yTicks).tickSizeInner(-TICK).tickSizeOuter(0).tickPadding(24))
    .call(styleAxis);
  g.append("g").attr("transform", `translate(${x1},0)`)
    .call(d3.axisRight(y).tickValues(p.yTicks).tickSizeInner(-TICK).tickSizeOuter(0).tickFormat(() => ""))
    .call(styleAxis);

  // series
  const line = d3.line().x((d, i) => x(frames[i])).y(d => y(d));
  const plot = g.append("g").attr("clip-path", `url(#clip${k})`);
  p.data.forEach((vals, i) => {
    const s = p.style[i];
    plot.append("path").datum(vals)
      .attr("d", line)
      .attr("fill", "none")
      .attr("stroke", s.c)
      .attr("stroke-width", 5)
      .attr("stroke-linejoin", "round")
      .attr("stroke-dasharray", s.d ? DASH[s.d] : null);
    if (s.m) {
      const mg = plot.append("g");
      vals.forEach((v, j) => marker(mg, s, x(frames[j]), y(v)));
    }
  });

  g.append("rect").attr("x", x0).attr("y", y0).attr("width", x1 - x0).attr("height", y1 - y0)
    .attr("fill", "none").attr("stroke", INK).attr("stroke-width", 3);

  // legend
  const [lx0, ly0, lx1, ly1] = p.legend;
  const lh = ly1 - ly0, cy = lh / 2;
  const lg = g.append("g");
  const box = lg.append("rect").attr("fill", "#fff").attr("stroke", INK).attr("stroke-width", 3);
  let cx = 14;
  names.forEach((name, i) => {
    const s = p.style[i];
    lg.append("line").attr("x1", cx).attr("x2", cx + 88).attr("y1", cy).attr("y2", cy)
      .attr("stroke", s.c).attr("stroke-width", 5)
      .attr("stroke-dasharray", s.d ? DASH[s.d] : null);
    marker(lg, s, cx + 44, cy);
    const t = lg.append("text").attr("x", cx + 98).attr("y", cy).attr("dy", "0.35em")
      .attr("font-family", SANS).attr("font-weight", "bold").attr("font-size", 50)
      .attr("fill", "#000").text(name);
    cx += 98 + t.node().getComputedTextLength() + 12;
  });
  const natural = cx + 2;
  box.attr("width", natural).attr("height", lh);
  lg.attr("transform", `translate(${lx0},${ly0}) scale(${(lx1 - lx0) / natural},1)`);

  // axis titles
  g.append("text")
    .attr("transform", `translate(${p.yLabX},${(y0 + y1) / 2}) rotate(-90)`)
    .attr("text-anchor", "middle").attr("dominant-baseline", "central")
    .attr("font-family", SANS).attr("font-weight", "bold").attr("font-size", k === 0 ? 76 : 72)
    .attr("textLength", p.yLen).attr("lengthAdjust", "spacingAndGlyphs")
    .attr("fill", INK).text("PSNR (dB)");
  g.append("text")
    .attr("x", (x0 + x1) / 2).attr("y", p.xLab)
    .attr("text-anchor", "middle")
    .attr("font-family", SANS).attr("font-weight", "bold").attr("font-size", 68)
    .attr("textLength", p.xLen).attr("lengthAdjust", "spacingAndGlyphs")
    .attr("fill", INK).text("FRAME NUMBER");

  // sub-figure tag
  const tg = g.append("text").attr("x", 1612).attr("y", p.tagBase)
    .attr("text-anchor", "middle").attr("font-family", SERIF).attr("font-size", 80).attr("fill", "#000");
  tg.append("tspan").text("(");
  tg.append("tspan").attr("font-weight", "bold").text(p.tag);
  tg.append("tspan").text(")");
});
</script>
</body>
</html>
